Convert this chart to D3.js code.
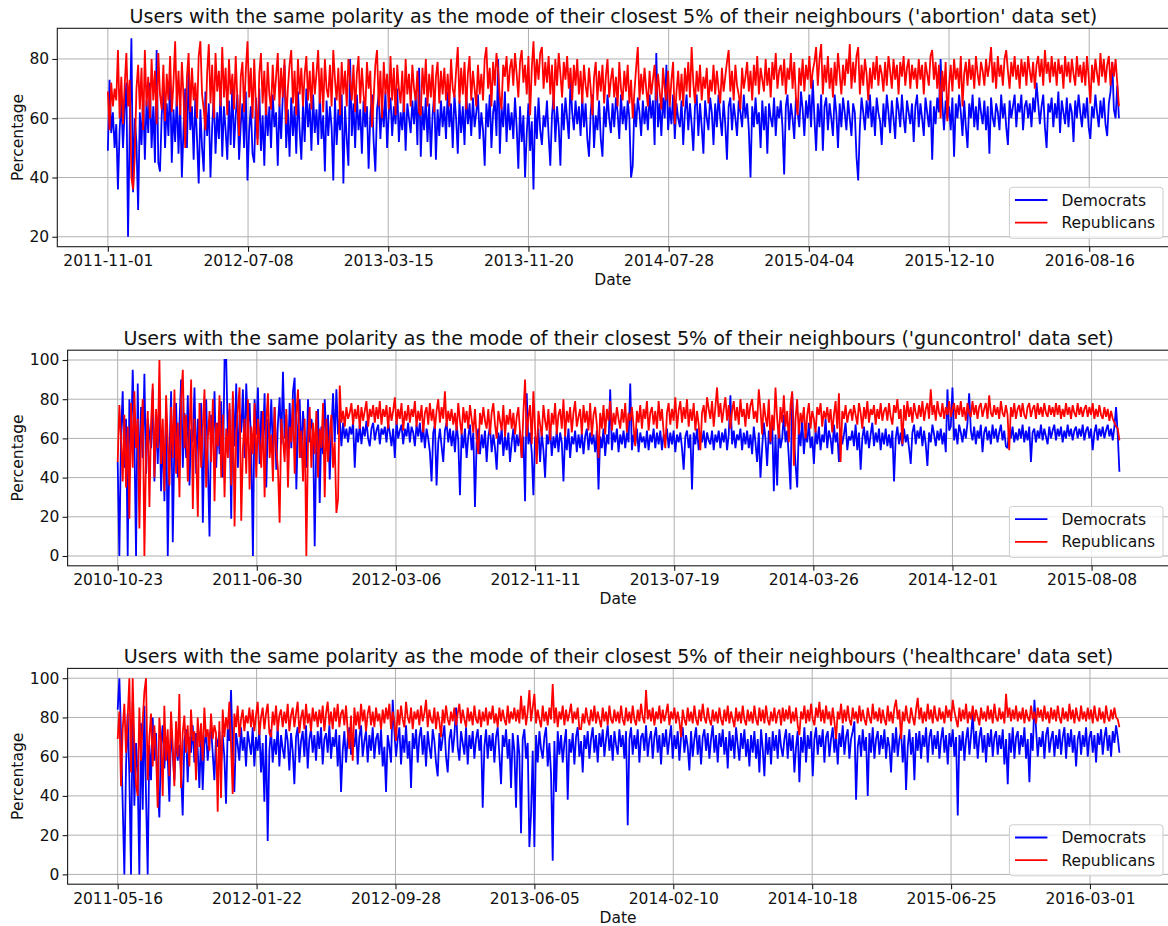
<!DOCTYPE html>
<html>
<head>
<meta charset="utf-8">
<script src="https://cdn.jsdelivr.net/npm/d3@7"></script>
<style>
  html, body { margin: 0; padding: 0; background: #ffffff; }
  svg { display: block; }
</style>
</head>
<body>
<svg id="chart" width="1168" height="926"></svg>
<script>
// Daily shares are stored as one sample every STEP days; x positions are day indices.
const STEP = 3;
const TICK_EVERY = 250;

const abortionDates = ["2011-11-01","2012-07-08","2013-03-15","2013-11-20","2014-07-28","2015-04-04","2015-12-10","2016-08-16"];
const guncontrolDates = ["2010-10-23","2011-06-30","2012-03-06","2012-11-11","2013-07-19","2014-03-26","2014-12-01","2015-08-08"];
const healthcareDates = ["2011-05-16","2012-01-22","2012-09-28","2013-06-05","2014-02-10","2014-10-18","2015-06-25","2016-03-01"];

const abortionTicksY = [20, 40, 60, 80];
const percentTicksY = [0, 20, 40, 60, 80, 100];

const seriesNames = ["Democrats", "Republicans"];

const abortionDemocrats = [
49,73,55,62,50,58,36,56,66,50,63,72,20,57,87,35,60,52,29,62,
51,68,46,66,55,72,50,64,45,83,45,42,61,70,50,65,54,74,45,63,
52,68,48,65,40,57,70,50,76,56,64,46,67,53,38,63,50,42,69,54,
65,40,57,68,48,62,53,70,47,64,56,46,66,51,72,50,61,68,46,58,
65,50,69,39,56,64,48,45,67,53,70,49,61,44,66,54,64,50,68,57,
62,44,65,53,68,78,50,63,47,67,54,64,48,69,56,46,65,52,70,57,
65,49,68,55,63,51,69,53,61,42,66,54,64,57,39,67,51,63,56,68,
38,64,53,44,80,54,65,50,68,56,63,48,66,57,64,43,61,68,52,42,
63,68,53,65,57,69,50,62,67,54,64,58,70,52,62,56,67,49,65,60,
55,66,58,68,51,77,47,64,56,67,52,65,47,61,68,46,63,54,66,57,
64,53,69,57,65,50,68,60,48,66,55,64,51,69,58,65,54,67,57,62,
68,53,62,56,44,65,57,68,50,62,66,54,80,48,64,57,69,52,65,56,
62,53,67,57,43,64,52,61,40,55,65,49,59,36,64,53,67,56,51,61,
57,66,54,44,61,68,52,64,57,44,65,56,67,60,53,73,62,56,66,58,
64,54,67,57,65,53,47,62,68,50,61,56,66,53,47,64,57,68,60,55,
65,57,67,62,53,68,58,64,56,66,60,40,44,65,57,67,62,54,66,58,
64,56,68,60,66,51,82,57,65,54,67,60,78,56,64,58,68,53,65,60,
57,66,51,62,68,56,65,58,49,64,68,54,65,57,48,66,60,56,67,62,
51,65,57,68,60,54,66,58,46,64,67,56,65,60,54,66,62,57,68,60,
65,56,40,64,57,67,58,62,50,66,56,64,48,65,60,57,67,54,64,60,
66,57,41,64,68,56,65,60,53,67,62,57,69,63,54,66,60,68,57,73,
60,49,65,57,68,49,64,67,56,65,60,54,68,62,50,65,57,67,62,56,
66,60,54,65,62,47,39,57,67,62,56,66,60,68,57,64,54,67,62,59,
51,65,57,68,62,55,66,60,53,67,63,57,68,60,55,66,62,58,65,52,
64,68,57,65,60,54,67,62,57,66,46,64,58,67,62,80,65,56,66,60,
64,56,67,47,65,60,68,62,54,66,57,50,65,60,68,57,64,56,67,62,
58,66,56,64,48,67,60,57,65,62,56,68,60,65,57,51,66,60,64,68,
57,65,62,68,56,64,66,60,65,57,67,62,72,65,58,64,68,57,50,65,
62,67,57,65,60,69,55,66,62,58,67,57,65,62,52,66,60,68,62,57,
65,60,67,57,53,64,60,68,62,57,66,60,67,58,54,65,69,79,63,60,
71,60
];

const abortionRepublicans = [
69,56,72,64,70,66,83,60,74,58,71,82,64,73,40,36,47,70,78,63,
77,56,83,64,74,60,80,66,76,58,82,68,63,78,59,75,66,81,62,72,
86,64,76,61,79,67,50,74,82,62,77,66,72,60,81,86,68,63,56,75,
85,65,78,60,82,69,76,64,84,67,77,61,80,68,75,63,81,66,54,74,
79,62,76,86,67,77,60,80,64,51,75,82,65,76,61,79,68,63,78,66,
74,82,64,77,67,80,58,70,78,83,65,76,61,80,68,77,64,75,81,66,
76,63,79,68,75,83,65,77,62,80,70,67,78,64,83,73,66,77,61,79,
68,76,64,80,73,66,78,62,75,81,65,77,68,62,79,70,76,57,67,78,
83,64,76,60,79,68,75,63,81,66,77,61,78,70,65,76,62,80,68,75,
64,78,70,66,76,62,61,77,68,80,64,75,67,78,62,74,79,65,76,68,
77,66,75,64,80,70,67,76,84,65,77,68,79,63,75,81,66,76,70,64,
78,68,75,66,80,84,70,77,64,79,71,82,76,67,63,78,74,81,69,77,
80,71,82,75,67,79,83,72,78,68,81,61,77,86,71,80,73,82,84,70,
79,72,81,68,78,63,80,71,82,75,67,79,73,81,70,77,66,78,71,80,
68,76,65,78,71,67,77,70,61,74,79,66,76,69,78,65,74,80,67,73,
77,67,74,64,79,70,66,76,69,78,65,73,60,69,77,84,66,75,68,77,
70,64,76,68,73,78,66,75,69,63,77,70,66,76,64,73,79,58,69,76,
66,75,64,77,69,79,67,84,72,65,76,69,78,66,74,70,77,65,73,69,
78,68,76,70,65,77,69,74,79,83,69,76,66,78,71,68,63,77,70,74,
79,69,76,66,78,71,81,68,77,73,69,80,71,77,67,79,73,82,70,76,
78,71,80,68,77,73,82,70,79,67,61,77,71,80,69,78,73,81,70,76,
79,84,71,80,85,68,78,72,81,70,77,67,79,71,82,75,68,78,71,80,
75,85,70,79,72,81,84,68,78,71,80,75,66,77,70,79,73,81,71,78,
75,69,79,71,81,76,70,80,73,78,68,79,74,81,71,77,80,70,78,73,
77,70,80,73,78,68,79,75,71,81,83,73,79,70,78,60,76,69,79,59,
71,78,69,80,73,77,70,81,64,75,79,71,80,73,78,70,81,75,71,79,
76,71,80,74,78,84,72,79,70,81,74,78,71,80,83,76,70,79,74,81,
73,78,70,80,74,79,71,81,76,72,79,70,78,81,74,80,71,83,75,79,
72,81,74,79,71,80,75,78,70,81,74,79,72,80,75,71,81,74,78,72,
79,71,81,74,65,78,72,80,75,71,82,74,80,72,78,81,71,79,74,80,
72,64
];

const guncontrolDemocrats = [
48,0,62,84,45,70,0,80,55,95,60,0,88,35,76,50,93,42,70,62,
55,85,38,72,47,80,33,64,28,76,0,52,84,7,60,78,40,68,90,45,
73,50,82,36,65,58,86,42,70,55,78,17,62,80,48,10,72,58,84,45,
68,52,79,40,100,100,60,75,19,82,56,88,45,72,63,85,50,88,66,78,
55,0,80,62,86,47,74,58,83,35,70,60,80,52,76,44,68,81,57,94,
60,72,48,78,55,84,91,34,66,80,50,74,62,45,80,58,70,64,5,60,
75,27,66,52,80,60,72,39,64,83,58,85,62,70,56,68,60,65,58,66,
62,68,45,65,58,67,57,66,61,69,60,56,65,68,59,64,67,57,65,62,
66,58,68,63,56,65,50,69,60,64,67,57,65,61,68,58,66,63,56,67,
61,68,58,66,55,65,60,53,38,63,67,36,58,65,56,48,64,68,58,65,
56,64,53,67,59,31,63,55,65,50,61,67,54,63,25,58,65,52,62,55,
64,48,61,66,53,62,55,44,63,57,65,51,61,54,63,48,58,65,53,62,
56,64,50,61,28,83,57,63,53,31,61,55,65,48,63,54,40,62,57,66,
51,61,55,64,53,63,58,38,62,54,65,50,61,57,64,53,62,55,63,52,
61,65,54,63,57,62,53,64,34,61,55,65,51,62,57,85,54,63,58,65,
53,62,57,64,55,63,58,88,54,62,57,65,53,63,58,61,55,64,54,62,
58,65,55,63,57,64,54,62,59,65,55,63,57,64,53,62,58,63,55,44,
61,64,55,62,34,63,57,65,54,62,58,64,55,63,59,57,64,54,62,58,
64,55,63,58,65,54,62,82,57,64,55,62,59,65,54,63,57,64,55,62,
52,66,58,48,63,40,55,68,60,46,64,57,70,33,62,36,67,55,60,72,
58,64,50,34,83,62,47,35,66,56,70,52,63,58,68,55,61,47,64,57,
66,54,62,58,70,55,64,60,52,67,58,63,48,65,57,62,68,54,61,59,
64,56,67,54,63,44,60,66,57,64,55,62,68,56,63,58,65,54,63,57,
65,56,62,55,64,38,60,66,57,63,56,65,58,62,55,47,63,67,57,64,
60,66,56,64,57,46,63,58,67,62,56,64,59,65,57,63,53,85,64,66,
86,59,65,57,67,63,58,65,60,68,83,64,59,66,57,64,60,67,53,63,
66,59,64,57,67,60,65,58,63,67,59,64,56,55,65,60,66,58,63,59,
65,60,67,58,64,59,66,48,63,65,58,64,60,67,59,65,61,57,66,60,
64,67,59,65,61,66,58,64,60,67,61,65,59,64,66,60,65,61,67,59,
64,66,60,65,54,63,67,59,65,61,66,60,64,67,61,65,59,66,76,62,
43
];

const guncontrolRepublicans = [
48,77,60,38,72,35,66,19,78,45,84,55,70,14,62,80,0,52,74,25,
68,88,40,75,55,100,47,70,33,82,58,36,76,50,85,42,68,30,80,95,
55,72,38,64,90,24,70,52,20,78,45,66,85,35,60,74,48,80,28,68,
56,82,40,72,30,65,50,78,36,84,15,62,75,86,18,55,70,42,80,34,
66,52,78,40,70,58,45,74,30,68,83,50,62,38,76,55,44,17,70,60,
48,75,35,66,58,80,42,72,85,50,64,38,70,0,58,76,45,68,52,74,
40,65,55,78,30,70,48,62,72,45,58,22,29,87,68,74,66,76,70,73,
78,67,75,70,77,65,76,69,74,79,66,75,71,77,68,76,70,79,67,75,
71,77,65,76,69,74,81,67,75,70,78,64,74,69,77,68,75,71,79,66,
74,69,77,63,73,76,67,78,69,75,65,74,80,68,76,70,84,66,74,69,
75,67,73,64,78,69,62,76,68,74,65,77,70,63,75,60,52,73,67,76,
69,65,75,62,73,78,67,60,74,69,64,77,61,72,67,75,65,73,62,71,
76,63,50,73,90,61,71,77,57,84,65,47,74,67,61,77,69,64,75,59,
73,67,78,62,72,75,65,80,61,74,68,76,63,73,79,66,71,75,62,77,
68,74,64,78,61,72,76,67,50,73,65,77,62,75,69,79,64,73,67,76,
70,65,75,68,78,63,73,69,76,66,56,74,68,77,65,75,70,79,64,73,
76,67,74,65,79,69,75,63,55,73,78,67,75,69,81,65,74,79,68,76,
70,80,66,75,69,78,64,74,67,54,73,77,68,81,75,70,79,66,76,86,
71,78,68,75,81,69,77,65,74,79,69,76,67,80,71,75,66,78,70,77,
80,70,74,68,85,75,62,78,71,66,80,58,72,64,86,70,60,76,68,82,
66,74,58,77,84,46,70,80,62,73,68,76,60,72,78,65,74,70,63,76,
72,78,66,74,70,76,68,75,63,72,79,65,83,48,74,70,77,68,73,75,
69,77,72,67,78,73,65,76,70,79,68,75,72,77,67,75,70,78,69,74,
76,69,78,71,67,77,73,80,70,75,57,77,69,79,71,76,68,78,73,70,
77,71,79,69,75,78,70,85,72,77,69,79,73,71,78,70,76,72,79,71,
75,78,70,77,72,79,71,76,69,78,73,71,79,72,77,70,76,78,71,75,
78,70,82,73,71,77,72,76,70,79,73,71,77,72,54,76,71,78,70,75,
77,71,78,72,70,76,78,71,75,77,70,78,72,76,71,78,73,71,77,72,
76,71,78,72,77,70,75,71,78,72,76,70,77,73,71,78,72,76,71,75,
77,71,76,72,78,70,75,71,77,72,70,76,71,75,69,74,70,68,66,65,
59
];

const healthcareDemocrats = [
84,100,72,36,0,55,82,50,0,88,35,67,50,0,77,33,86,40,0,66,
48,80,58,72,45,29,66,76,54,70,60,37,74,62,48,71,58,66,52,30,
68,74,47,70,62,76,57,72,64,44,71,43,66,73,58,69,75,62,48,70,
65,73,56,71,60,36,74,68,94,62,42,72,66,58,75,63,70,55,73,67,
61,75,55,70,63,74,52,67,37,71,17,63,74,57,69,61,76,55,71,64,
59,74,68,53,72,63,46,70,75,57,68,73,60,76,54,69,74,62,71,58,
73,64,75,56,69,72,62,76,59,70,65,74,55,71,42,63,73,57,69,75,
61,71,65,74,56,70,76,60,68,73,57,71,63,75,59,69,72,61,74,55,
65,42,71,65,57,89,73,60,69,75,56,71,62,76,59,68,44,72,64,74,
57,70,75,61,71,55,73,65,59,74,68,57,50,72,63,70,76,60,52,69,
74,62,71,85,65,58,73,67,61,75,56,71,64,73,59,69,74,63,71,34,
65,74,59,71,63,72,57,70,75,61,46,71,65,74,59,69,44,72,63,34,
71,61,21,69,74,59,67,14,31,63,14,71,57,73,64,59,70,75,55,67,
51,7,68,42,73,61,71,57,67,74,38,69,62,72,56,70,75,60,68,52,
71,64,73,59,69,75,62,71,57,72,65,74,60,69,76,63,71,58,73,66,
61,74,65,71,59,73,25,69,75,61,71,64,74,57,70,72,63,76,60,69,
73,59,70,75,62,71,56,72,65,74,61,69,76,59,71,64,73,58,70,75,
62,71,65,53,73,60,69,75,61,71,56,70,74,63,72,59,69,76,62,71,
57,72,65,74,61,70,54,73,63,71,59,75,66,58,72,64,74,60,69,55,
71,62,73,59,69,52,74,64,50,72,61,70,56,73,63,71,59,74,65,60,
69,74,59,72,63,71,52,65,73,47,70,62,75,57,71,64,73,50,69,75,
61,71,65,74,57,70,73,60,69,75,62,71,56,72,65,76,61,70,74,59,
69,73,78,38,65,71,60,74,63,70,40,72,62,75,59,69,73,61,71,64,
74,59,70,65,52,72,62,75,60,69,73,57,71,43,65,74,61,70,48,72,
63,73,59,71,65,75,57,70,74,61,71,64,73,59,69,75,62,71,56,72,
65,74,60,70,30,71,63,73,58,69,75,61,71,82,64,73,59,70,75,62,
71,57,72,65,74,60,70,73,61,71,64,74,56,69,46,72,62,75,59,70,
73,61,71,65,75,59,69,47,72,63,89,74,60,70,65,73,59,71,75,62,
69,73,60,71,64,74,61,70,75,59,72,65,74,62,71,55,69,73,61,71,
65,75,60,70,73,62,71,57,72,66,74,61,70,75,63,71,60,73,67,76,
70,62
];

const healthcareRepublicans = [
69,83,45,74,87,62,80,100,52,100,66,46,40,85,58,78,93,100,48,70,
82,55,76,62,34,80,68,40,86,58,74,50,83,66,45,78,60,92,44,72,
81,62,76,55,84,68,73,48,80,65,77,58,85,70,74,63,82,69,76,72,
32,78,39,84,70,80,74,88,66,41,82,75,86,70,79,84,73,81,77,85,
75,84,73,81,88,71,80,85,74,82,87,72,70,83,76,86,73,81,84,75,
83,77,87,73,81,85,75,82,88,72,80,84,74,87,77,82,73,85,78,83,
75,84,77,86,73,82,88,76,83,74,85,78,87,75,82,84,76,86,73,64,
81,58,85,76,83,74,87,78,84,73,82,86,76,83,75,85,78,82,74,84,
77,85,79,87,74,83,78,68,84,76,86,79,75,88,80,77,85,74,83,79,
84,76,86,78,82,89,75,84,79,77,85,74,83,78,70,84,77,86,79,76,
83,78,85,76,82,87,77,84,79,75,85,78,83,76,86,79,77,84,75,83,
78,85,76,83,79,86,77,82,75,85,78,84,79,76,86,77,83,79,85,78,
84,77,91,79,86,76,83,94,78,85,92,77,84,79,75,86,78,83,76,85,
79,97,77,85,75,83,79,86,76,84,78,82,87,77,83,79,85,74,74,82,
77,85,79,76,84,78,86,77,83,79,75,85,78,83,76,86,79,77,84,78,
83,77,86,79,76,85,78,83,77,86,79,76,84,78,87,80,77,94,79,84,
78,85,76,83,79,86,77,84,78,82,87,76,83,79,85,77,83,78,70,84,
79,76,85,78,83,77,86,79,76,84,78,87,80,77,85,79,76,84,78,83,
77,85,79,76,84,78,86,77,83,79,75,85,78,83,77,86,79,76,84,78,
83,77,86,79,76,85,78,84,77,86,79,76,83,78,85,77,82,84,76,85,
78,84,79,86,77,83,78,85,76,71,83,79,86,77,84,78,87,79,76,85,
80,88,78,84,77,86,79,83,76,85,78,69,83,79,87,77,84,78,86,79,
76,85,79,83,77,86,78,84,79,76,85,80,77,87,79,83,78,85,77,84,
79,76,86,78,83,77,85,89,79,84,69,83,78,86,79,77,85,80,76,84,
90,79,85,77,83,78,87,79,84,77,86,80,78,85,79,83,77,86,80,84,
78,89,83,79,75,85,78,84,79,87,77,83,79,86,78,84,80,76,85,79,
83,78,86,79,84,77,87,80,78,85,79,83,77,92,80,85,78,84,79,86,
78,83,79,85,77,84,80,78,86,79,83,77,85,80,84,78,86,79,83,77,
85,79,84,78,86,80,77,85,79,83,78,87,79,84,77,85,80,78,86,79,
83,78,85,79,84,77,86,80,78,85,79,83,77,86,80,78,84,79,85,80,
79,75
];

// Layout of the three stacked panels
const FONT = "'DejaVu Sans', 'Liberation Sans', sans-serif";
const FONT_SIZE = 15.5;
const TITLE_SIZE = 19.1;
const PLOT_RIGHT = 1169.5;
const COLORS = ["#0000ff", "#ff0000"];
const LINE_WIDTH = 1.8;

const panels = [
  { name: "abortion",   dem: abortionDemocrats,   rep: abortionRepublicans,   dates: abortionDates,   yTicks: abortionTicksY, left: 57.3, top: 28.3,  bottom: 246.7 },
  { name: "guncontrol", dem: guncontrolDemocrats, rep: guncontrolRepublicans, dates: guncontrolDates, yTicks: percentTicksY,  left: 67.6, top: 350.2, bottom: 565.8 },
  { name: "healthcare", dem: healthcareDemocrats, rep: healthcareRepublicans, dates: healthcareDates, yTicks: percentTicksY,  left: 67.6, top: 668.4, bottom: 884.2 }
];

const svg = d3.select("#chart");

panels.forEach(p => {
  const n = Math.max(p.dem.length, p.rep.length);
  const last = (n - 1) * STEP;
  const x = d3.scaleLinear()
    .domain([-0.05 * last, 1.05 * last])
    .range([p.left, PLOT_RIGHT]);

  const all = p.dem.concat(p.rep);
  const lo = d3.min(all), hi = d3.max(all), pad = (hi - lo) * 0.05;
  const y = d3.scaleLinear()
    .domain([lo - pad, hi + pad])
    .range([p.bottom, p.top]);

  const tickIdx = p.dates.map((d, i) => i * TICK_EVERY);

  const g = svg.append("g");

  // grid
  g.append("g").selectAll("line").data(tickIdx).join("line")
    .attr("x1", d => x(d)).attr("x2", d => x(d))
    .attr("y1", p.top).attr("y2", p.bottom)
    .attr("stroke", "#b0b0b0").attr("stroke-width", 1);
  g.append("g").selectAll("line").data(p.yTicks).join("line")
    .attr("x1", p.left).attr("x2", PLOT_RIGHT)
    .attr("y1", d => y(d)).attr("y2", d => y(d))
    .attr("stroke", "#b0b0b0").attr("stroke-width", 1);

  // series
  const line = d3.line()
    .x((d, i) => x(i * STEP))
    .y(d => y(d));

  [p.dem, p.rep].forEach((vals, si) => {
    g.append("path")
      .datum(vals)
      .attr("d", line)
      .attr("fill", "none")
      .attr("stroke", COLORS[si])
      .attr("stroke-width", LINE_WIDTH)
      .attr("stroke-linejoin", "miter")
      .attr("stroke-miterlimit", 2);
  });

  // frame
  g.append("rect")
    .attr("x", p.left).attr("y", p.top)
    .attr("width", PLOT_RIGHT - p.left).attr("height", p.bottom - p.top)
    .attr("fill", "none").attr("stroke", "#1a1a1a").attr("stroke-width", 1.1);

  // axes
  const xAxis = d3.axisBottom(x)
    .tickValues(tickIdx)
    .tickFormat((d, i) => p.dates[i])
    .tickSize(5).tickSizeOuter(0).tickPadding(3.5);
  const gx = g.append("g")
    .attr("transform", `translate(0,${p.bottom})`)
    .call(xAxis);
  gx.select(".domain").remove();

  const yAxis = d3.axisLeft(y)
    .tickValues(p.yTicks)
    .tickSize(5).tickSizeOuter(0).tickPadding(3.2);
  const gy = g.append("g")
    .attr("transform", `translate(${p.left},0)`)
    .call(yAxis);
  gy.select(".domain").remove();

  [gx, gy].forEach(a => {
    a.selectAll("text").attr("font-family", FONT).attr("font-size", FONT_SIZE).attr("fill", "#111");
    a.selectAll("line").attr("stroke", "#1a1a1a").attr("stroke-width", 1.1);
  });

  // labels
  g.append("text")
    .attr("x", (p.left + PLOT_RIGHT) / 2 - 0.5)
    .attr("y", p.bottom + 38.5)
    .attr("text-anchor", "middle")
    .attr("font-family", FONT).attr("font-size", FONT_SIZE).attr("fill", "#111")
    .text("Date");

  g.append("text")
    .attr("transform", `translate(23,${(p.top + p.bottom) / 2}) rotate(-90)`)
    .attr("text-anchor", "middle")
    .attr("font-family", FONT).attr("font-size", FONT_SIZE).attr("fill", "#111")
    .text("Percentage");

  g.append("text")
    .attr("x", (p.left + PLOT_RIGHT) / 2)
    .attr("y", p.top - 5.3)
    .attr("text-anchor", "middle")
    .attr("font-family", FONT).attr("font-size", TITLE_SIZE).attr("fill", "#111")
    .text(`Users with the same polarity as the mode of their closest 5% of their neighbours ('${p.name}' data set)`);

  // legend, lower right
  const lgW = 153.6, lgH = 51;
  const lgX = 1163 - lgW, lgY = p.bottom - 8.4 - lgH;
  const lg = g.append("g").attr("transform", `translate(${lgX},${lgY})`);
  lg.append("rect")
    .attr("width", lgW).attr("height", lgH).attr("rx", 3).attr("ry", 3)
    .attr("fill", "#ffffff").attr("fill-opacity", 0.8)
    .attr("stroke", "#cccccc").attr("stroke-width", 1);
  seriesNames.forEach((name, i) => {
    const yy = 12.7 + i * 22.7;
    lg.append("line")
      .attr("x1", 5.6).attr("x2", 38).attr("y1", yy).attr("y2", yy)
      .attr("stroke", COLORS[i]).attr("stroke-width", LINE_WIDTH);
    lg.append("text")
      .attr("x", 52).attr("y", yy + 5.6)
      .attr("font-family", FONT).attr("font-size", FONT_SIZE).attr("fill", "#111")
      .text(name);
  });
});
</script>
</body>
</html>
